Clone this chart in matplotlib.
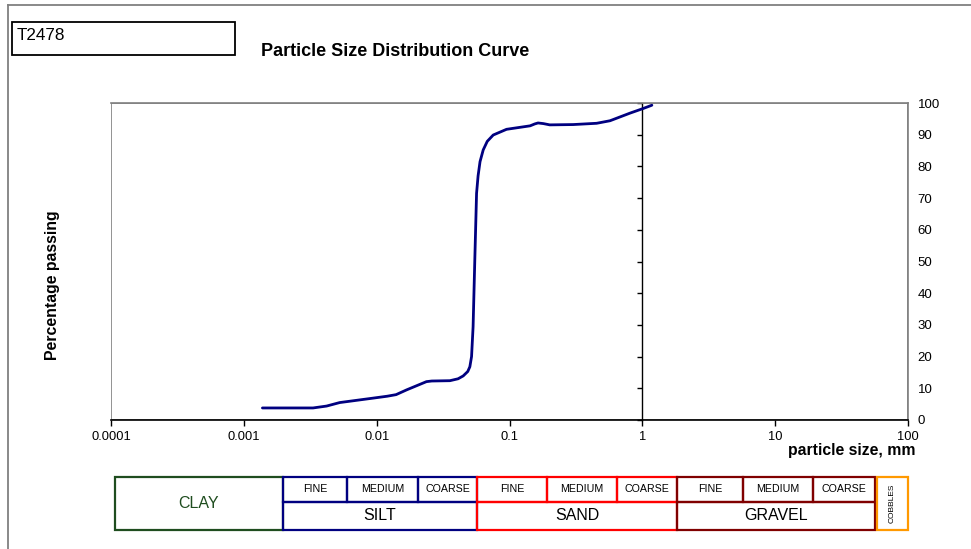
import numpy as np
import matplotlib
matplotlib.use("Agg")
import matplotlib.pyplot as plt
from matplotlib.patches import Rectangle
from matplotlib.lines import Line2D

plt.rcParams['font.family'] = ['Liberation Sans', 'DejaVu Sans']

# particle size (mm) and percentage passing
size_mm = [0.00138, 0.00332, 0.00420, 0.00527, 0.0094, 0.0120, 0.0140,
           0.0168, 0.0237, 0.0260, 0.0356, 0.0410, 0.0448, 0.0485, 0.0503,
           0.0518, 0.0532, 0.0548, 0.0565, 0.0580, 0.0600, 0.0634, 0.0680,
           0.0754, 0.095, 0.143, 0.155, 0.164, 0.180, 0.201, 0.302, 0.453,
           0.571, 0.807, 1.02, 1.18]
passing = [3.8, 3.8, 4.4, 5.5, 6.9, 7.5, 8.0,
           9.5, 12.1, 12.3, 12.4, 13.0, 13.9, 15.3, 16.8,
           20.0, 29.4, 50.5, 71.5, 77.0, 81.5, 85.2, 87.9,
           89.9, 91.7, 92.8, 93.4, 93.7, 93.5, 93.1, 93.2, 93.6,
           94.4, 96.8, 98.3, 99.3]

x_ticks = [0.0001, 0.001, 0.01, 0.1, 1, 10, 100]
x_tick_labels = ['0.0001', '0.001', '0.01', '0.1', '1', '10', '100']
y_ticks = list(range(0, 101, 10))

# classification chart below the plot (pixel edges, label, colour)
W, H = 971, 549
top_row = [(283, 347, 'FINE', '#000080'), (347, 418, 'MEDIUM', '#000080'),
           (418, 477, 'COARSE', '#000080'),
           (477, 547, 'FINE', '#ff0000'), (547, 617, 'MEDIUM', '#ff0000'),
           (617, 677, 'COARSE', '#ff0000'),
           (677, 743, 'FINE', '#800000'), (743, 813, 'MEDIUM', '#800000'),
           (813, 875, 'COARSE', '#800000')]
bottom_row = [(283, 477, 'SILT', '#000080'), (477, 677, 'SAND', '#ff0000'),
              (677, 875, 'GRAVEL', '#800000')]

fig = plt.figure(figsize=(W / 100, H / 100), dpi=100)


def fx(px):
    return px / W


def fy(py):
    return 1 - py / H


ax = fig.add_axes([fx(111), fy(420), fx(908) - fx(111), fy(103) - fy(420)])
ax.set_xscale('log')
ax.set_xlim(0.0001, 100)
ax.set_ylim(0, 100)

ax.plot(size_mm, passing, color='#000080', lw=2.0, solid_joinstyle='round',
        solid_capstyle='round', clip_on=False, zorder=3)

ax.set_xticks(x_ticks)
ax.set_xticklabels(x_tick_labels)
ax.xaxis.set_minor_locator(matplotlib.ticker.NullLocator())
ax.tick_params(axis='x', direction='out', length=4, width=1, labelsize=9.3,
               pad=4, colors='black')

ax.set_yticks(y_ticks)
ax.spines['left'].set_position(('data', 1))
ax.spines['left'].set_color('black')
ax.spines['left'].set_linewidth(1)
ax.tick_params(axis='y', left=True, labelleft=False, right=False,
               labelright=True, direction='out', length=3.5, width=1,
               labelsize=9.5, pad=3.5)

for s in ['top', 'right']:
    ax.spines[s].set_color('#808080')
    ax.spines[s].set_linewidth(1.2)
ax.spines['bottom'].set_color('black')
ax.spines['bottom'].set_linewidth(1.2)
ax.add_patch(Rectangle((0, 0), 1, 1, transform=ax.transAxes, fill=False,
                       edgecolor='#808080', lw=1.2, zorder=0))

fig.text(fx(53), fy(285), 'Percentage passing', rotation=90, fontsize=11.4,
         fontweight='bold', ha='center', va='center')
fig.text(fx(915), fy(451), 'particle size, mm', fontsize=11.3,
         fontweight='bold', ha='right', va='center')
fig.text(fx(395), fy(52), 'Particle Size Distribution Curve', fontsize=13,
         fontweight='bold', ha='center', va='center')

# sample id box
fig.patches.append(Rectangle((fx(12), fy(55)), fx(235) - fx(12), fy(22) - fy(55),
                             transform=fig.transFigure, fill=False,
                             edgecolor='black', lw=1.3))
fig.text(fx(17), fy(35), 'T2478', fontsize=12.3, ha='left', va='center')

# outer frame (left and top visible)
fig.add_artist(Line2D([fx(8), fx(8)], [0, fy(5)], color='#808080', lw=1.3))
fig.add_artist(Line2D([fx(8), 1], [fy(5), fy(5)], color='#808080', lw=1.3))

# classification table
y0, ym, y1 = 477, 502, 530


def box(x0, x1, ya, yb, color):
    fig.patches.append(Rectangle((fx(x0), fy(yb)), fx(x1) - fx(x0), fy(ya) - fy(yb),
                                 transform=fig.transFigure, fill=False,
                                 edgecolor=color, lw=1.6))


box(115, 283, y0, y1, '#1f4d1f')
fig.text(fx(199), fy(504), 'CLAY', fontsize=11.5, color='#1f4d1f',
         ha='center', va='center')
for x0, x1, lab, col in top_row:
    box(x0, x1, y0, ym, col)
    fig.text(fx((x0 + x1) / 2), fy((y0 + ym) / 2), lab, fontsize=7.7,
             ha='center', va='center')
for x0, x1, lab, col in bottom_row:
    box(x0, x1, ym, y1, col)
    fig.text(fx((x0 + x1) / 2), fy((ym + y1) / 2), lab, fontsize=11.5,
             ha='center', va='center')
box(877, 908, y0, y1, '#ff9900')
fig.text(fx(892.5), fy((y0 + y1) / 2), 'COBBLES', fontsize=6, rotation=90,
         ha='center', va='center')

fig.savefig('out.png', dpi=100)
